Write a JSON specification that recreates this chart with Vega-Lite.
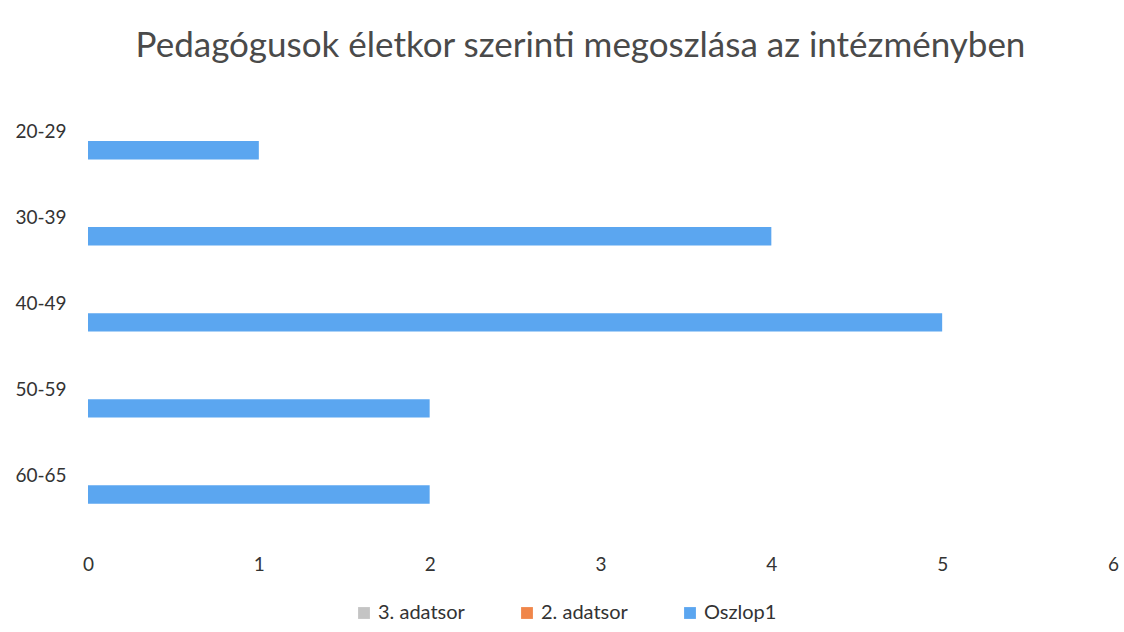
{
  "$schema": "https://vega.github.io/schema/vega-lite/v6.json",
  "autosize": "none",
  "width": 1025,
  "height": 432,
  "padding": {"left": 88, "top": 88, "right": 11, "bottom": 112},
  "background": "white",
  "title": {
    "text": "Pedagógusok életkor szerinti megoszlása az intézményben",
    "font": "Lato",
    "fontSize": 35,
    "fontWeight": "normal",
    "color": "#4a4a4a",
    "anchor": "middle",
    "dx": -20,
    "offset": 24
  },
  "data": {
    "values": [
      {"kor": "20-29", "sorozat": "3. adatsor", "ertek": 0},
      {"kor": "20-29", "sorozat": "2. adatsor", "ertek": 0},
      {"kor": "20-29", "sorozat": "Oszlop1", "ertek": 1},
      {"kor": "30-39", "sorozat": "3. adatsor", "ertek": 0},
      {"kor": "30-39", "sorozat": "2. adatsor", "ertek": 0},
      {"kor": "30-39", "sorozat": "Oszlop1", "ertek": 4},
      {"kor": "40-49", "sorozat": "3. adatsor", "ertek": 0},
      {"kor": "40-49", "sorozat": "2. adatsor", "ertek": 0},
      {"kor": "40-49", "sorozat": "Oszlop1", "ertek": 5},
      {"kor": "50-59", "sorozat": "3. adatsor", "ertek": 0},
      {"kor": "50-59", "sorozat": "2. adatsor", "ertek": 0},
      {"kor": "50-59", "sorozat": "Oszlop1", "ertek": 2},
      {"kor": "60-65", "sorozat": "3. adatsor", "ertek": 0},
      {"kor": "60-65", "sorozat": "2. adatsor", "ertek": 0},
      {"kor": "60-65", "sorozat": "Oszlop1", "ertek": 2}
    ]
  },
  "mark": {"type": "bar"},
  "encoding": {
    "y": {
      "field": "kor",
      "type": "nominal",
      "sort": ["20-29", "30-39", "40-49", "50-59", "60-65"],
      "scale": {"paddingInner": 0.36, "paddingOuter": 0.19},
      "axis": {
        "title": null,
        "domain": false,
        "ticks": false,
        "labelAlign": "left",
        "labelPadding": 73,
        "labelFont": "Lato",
        "labelFontSize": 19,
        "labelColor": "#333333",
        "labelBaseline": "middle"
      }
    },
    "yOffset": {
      "field": "sorozat",
      "type": "nominal",
      "sort": ["3. adatsor", "2. adatsor", "Oszlop1"]
    },
    "x": {
      "field": "ertek",
      "type": "quantitative",
      "scale": {"domain": [0, 6], "nice": false},
      "axis": {
        "title": null,
        "domain": false,
        "ticks": false,
        "grid": false,
        "values": [0, 1, 2, 3, 4, 5, 6],
        "labelPadding": 35,
        "labelFont": "Lato",
        "labelFontSize": 19,
        "labelColor": "#333333",
        "labelFlush": false
      }
    },
    "color": {
      "field": "sorozat",
      "type": "nominal",
      "sort": ["3. adatsor", "2. adatsor", "Oszlop1"],
      "scale": {
        "domain": ["3. adatsor", "2. adatsor", "Oszlop1"],
        "range": ["#c4c4c4", "#f0864a", "#5ba6f0"]
      },
      "legend": {
        "title": null,
        "orient": "none",
        "legendX": 266,
        "legendY": 515,
        "direction": "horizontal",
        "symbolType": "square",
        "symbolSize": 140,
        "labelFont": "Lato",
        "labelFontSize": 20,
        "labelColor": "#333333",
        "columnPadding": 52
      }
    }
  },
  "config": {"view": {"stroke": null}}
}
